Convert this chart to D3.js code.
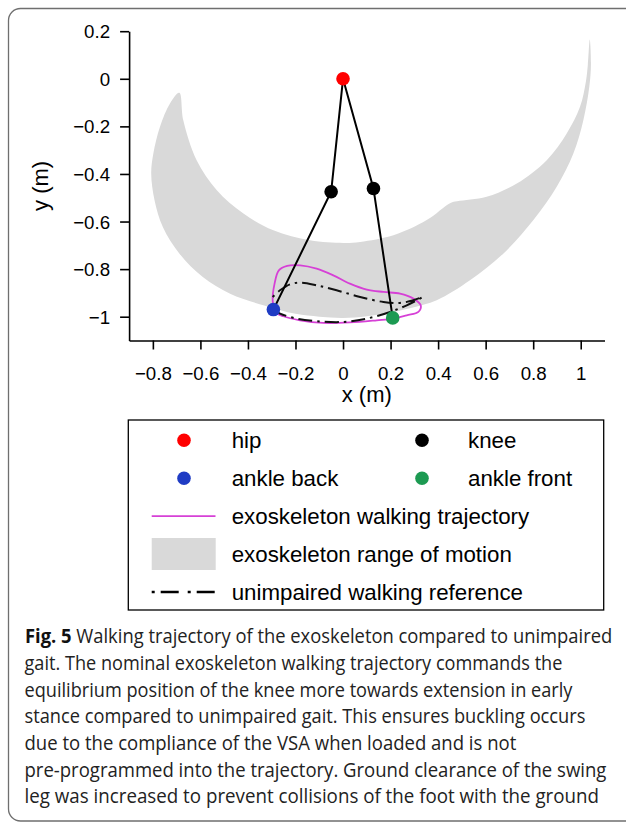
<!DOCTYPE html>
<html>
<head>
<meta charset="utf-8">
<script src="https://cdn.jsdelivr.net/npm/d3@7"></script>
<style>
  html, body { margin: 0; padding: 0; background: #fff; }
  svg { display: block; }
</style>
</head>
<body>
<div id="chart"></div>
<script>
// ---------------- data ----------------
const xTicks = [-0.8, -0.6, -0.4, -0.2, 0, 0.2, 0.4, 0.6, 0.8, 1];
const yTicks = [0.2, 0, -0.2, -0.4, -0.6, -0.8, -1];
const xLabel = "x (m)";
const yLabel = "y (m)";

// joint positions (m)
const jointNames = ["hip", "knee back", "knee front", "ankle back", "ankle front"];
const jointX = [0, -0.050, 0.128, -0.293, 0.209];
const jointY = [0, -0.475, -0.461, -0.970, -1.005];
const jointColors = ["#ff0000", "#000000", "#000000", "#1f3cc4", "#1c9a52"];

// leg segments (indices into joints)
const legBack = [0, 1, 3];
const legFront = [0, 2, 4];

// exoskeleton range of motion: outer boundary (left tip -> bottom -> right tip)
const rangeOuter = [
  [-0.689, -0.059], [-0.728, -0.104], [-0.770, -0.202], [-0.798, -0.314],
  [-0.807, -0.398], [-0.793, -0.510], [-0.758, -0.623], [-0.688, -0.735],
  [-0.590, -0.833], [-0.475, -0.903], [-0.335, -0.952], [-0.200, -0.988],
  [-0.100, -1.000], [0.000, -1.005], [0.100, -0.998], [0.200, -0.982],
  [0.290, -0.962], [0.394, -0.931], [0.534, -0.847], [0.674, -0.735],
  [0.801, -0.594], [0.899, -0.454], [0.969, -0.314], [1.011, -0.174],
  [1.036, -0.034], [1.043, 0.060], [1.038, 0.165]
];
// inner boundary (right tip -> bottom -> left tip)
const rangeInner = [
  [1.030, 0.060], [1.022, -0.010], [0.997, -0.118], [0.941, -0.230],
  [0.857, -0.342], [0.731, -0.440], [0.604, -0.496], [0.480, -0.515],
  [0.452, -0.522], [0.352, -0.594], [0.212, -0.658], [0.072, -0.686],
  [0.001, -0.690], [-0.139, -0.679], [-0.293, -0.637], [-0.419, -0.566],
  [-0.531, -0.468], [-0.616, -0.342], [-0.672, -0.174]
];

// exoskeleton walking trajectory (closed loop)
const exoTrajectory = [
  [-0.296, -0.931], [-0.288, -0.861], [-0.270, -0.805], [-0.235, -0.786],
  [-0.180, -0.784], [-0.111, -0.798], [-0.041, -0.826], [0.029, -0.861],
  [0.100, -0.886], [0.170, -0.896], [0.240, -0.903], [0.296, -0.924],
  [0.327, -0.952], [0.317, -0.980], [0.268, -0.994], [0.212, -1.008],
  [0.142, -1.015], [0.029, -1.024], [-0.083, -1.026], [-0.181, -1.015],
  [-0.251, -0.998], [-0.286, -0.980]
];

// unimpaired walking reference
const refTrajectory = [
  [-0.296, -0.917], [-0.265, -0.889], [-0.223, -0.864], [-0.181, -0.857],
  [-0.111, -0.868], [-0.027, -0.889], [0.072, -0.917], [0.170, -0.938],
  [0.240, -0.942], [0.296, -0.931], [0.335, -0.917], [0.268, -0.952],
  [0.198, -0.980], [0.100, -1.008], [0.001, -1.022], [-0.111, -1.019],
  [-0.195, -1.008], [-0.265, -0.987], [-0.293, -0.970]
];

// legend
const legendLabels = ["hip", "knee", "ankle back", "ankle front",
  "exoskeleton walking trajectory", "exoskeleton range of motion", "unimpaired walking reference"];
const legendKinds = ["point", "point", "point", "point", "line", "fill", "dashline"];
const legendColors = ["#ff0000", "#000000", "#1f3cc4", "#1c9a52", "#d640d6", "#d9d9d9", "#000000"];

// caption
const captionBold = "Fig. 5";
const captionLines = [
  " Walking trajectory of the exoskeleton compared to unimpaired",
  "gait. The nominal exoskeleton walking trajectory commands the",
  "equilibrium position of the knee more towards extension in early",
  "stance compared to unimpaired gait. This ensures buckling occurs",
  "due to the compliance of the VSA when loaded and is not",
  "pre-programmed into the trajectory. Ground clearance of the swing",
  "leg was increased to prevent collisions of the foot with the ground"
];
const captionRight = [612.7, 562.7, 572.7, 586, 516.7, 607, 599.3];

// ---------------- drawing ----------------
const W = 626, H = 823;
const svg = d3.select("#chart").append("svg").attr("width", W).attr("height", H);

// outer frame
svg.append("rect").attr("x", 8.5).attr("y", 8.5).attr("width", 640).attr("height", 812.5)
  .attr("rx", 12).attr("fill", "none").attr("stroke", "#6f6f6f").attr("stroke-width", 1.3);

const x = d3.scaleLinear().domain([-0.9, 1.1]).range([129.1, 604.5]);
const y = d3.scaleLinear().domain([-1.1, 0.2]).range([340.5, 31.2]);

const fontChart = "'Liberation Sans', Arial, Helvetica, sans-serif";
const minus = v => d3.format("")(v).replace("-", "\u2212");

// range of motion
const rangePoly = rangeOuter.concat(rangeInner);
const area = d3.line().x(d => x(d[0])).y(d => y(d[1])).curve(d3.curveCatmullRomClosed.alpha(0.5));
svg.append("path").attr("d", area(rangePoly)).attr("fill", "#d9d9d9").attr("stroke", "none");

// trajectories
const lineC = d3.line().x(d => x(d[0])).y(d => y(d[1])).curve(d3.curveCatmullRomClosed.alpha(0.5));
svg.append("path").attr("d", lineC(exoTrajectory)).attr("fill", "none")
  .attr("stroke", "#d640d6").attr("stroke-width", 1.8);

const lineO = d3.line().x(d => x(d[0])).y(d => y(d[1])).curve(d3.curveCatmullRom.alpha(0.5));
svg.append("path").attr("d", lineO(refTrajectory)).attr("fill", "none")
  .attr("stroke", "#111").attr("stroke-width", 2)
  .attr("stroke-dasharray", "2.5,5,14,5");

// leg segments
const lineL = d3.line().x(i => x(jointX[i])).y(i => y(jointY[i]));
[legBack, legFront].forEach(seg => {
  svg.append("path").attr("d", lineL(seg)).attr("fill", "none")
    .attr("stroke", "#000").attr("stroke-width", 2);
});

// joints
svg.selectAll("circle.joint").data(jointNames).enter().append("circle")
  .attr("class", "joint")
  .attr("cx", (d, i) => x(jointX[i])).attr("cy", (d, i) => y(jointY[i]))
  .attr("r", 6.8).attr("fill", (d, i) => jointColors[i]);

// axes
const xAxis = d3.axisBottom(x).tickValues(xTicks).tickSize(9).tickSizeOuter(0).tickFormat(minus);
const gx = svg.append("g").attr("transform", `translate(0,${y.range()[0]})`).call(xAxis);
const yAxis = d3.axisLeft(y).tickValues(yTicks).tickSize(9).tickSizeOuter(0).tickFormat(minus);
const gy = svg.append("g").attr("transform", `translate(${x.range()[0]},0)`).call(yAxis);
[gx, gy].forEach(g => {
  g.selectAll("path.domain").attr("stroke", "#000").attr("stroke-width", 1.6);
  g.selectAll(".tick line").attr("stroke", "#000").attr("stroke-width", 1.6);
  g.selectAll(".tick text").attr("fill", "#000").style("font-family", fontChart).style("font-size", "18.7px");
});
gx.selectAll(".tick text").attr("y", 0).attr("dy", null).attr("transform", "translate(0,39)");
gy.selectAll(".tick text").attr("x", -19).attr("dy", "0.35em");

svg.append("text").attr("x", (x.range()[0] + x.range()[1]) / 2).attr("y", 402)
  .attr("text-anchor", "middle").style("font-family", fontChart).style("font-size", "22px")
  .text(xLabel);
svg.append("text").attr("transform", `translate(48.3,${(y.range()[0] + y.range()[1]) / 2}) rotate(-90)`)
  .attr("text-anchor", "middle").style("font-family", fontChart).style("font-size", "22px")
  .text(yLabel);

// legend
const lg = svg.append("g");
lg.append("rect").attr("x", 128.3).attr("y", 420).attr("width", 475.4).attr("height", 190)
  .attr("fill", "#fff").attr("stroke", "#000").attr("stroke-width", 1.3);
const rowY = [440.3, 478.2, 516.1, 554, 591.9];
const pos = legendLabels.map((d, i) => {
  if (i < 4) return { row: Math.floor(i / 2), col: i % 2 };
  return { row: i - 2, col: 0 };
});
const symX = [184, 422], txtX = [231.7, 468];
legendLabels.forEach((lab, i) => {
  const p = pos[i], cy = rowY[p.row], cx = symX[p.col];
  const k = legendKinds[i];
  if (k === "point") {
    lg.append("circle").attr("cx", cx).attr("cy", cy).attr("r", 6.8).attr("fill", legendColors[i]);
  } else if (k === "line") {
    lg.append("line").attr("x1", 151.7).attr("x2", 215.5).attr("y1", cy).attr("y2", cy)
      .attr("stroke", legendColors[i]).attr("stroke-width", 1.8);
  } else if (k === "fill") {
    lg.append("rect").attr("x", 151.7).attr("y", cy - 16).attr("width", 64).attr("height", 32)
      .attr("fill", legendColors[i]);
  } else {
    lg.append("line").attr("x1", 151.7).attr("x2", 215.5).attr("y1", cy).attr("y2", cy)
      .attr("stroke", legendColors[i]).attr("stroke-width", 2.5)
      .attr("stroke-dasharray", "3,6,18,9");
  }
  lg.append("text").attr("x", txtX[p.col]).attr("y", cy + 8)
    .style("font-family", fontChart).style("font-size", "22.3px").attr("fill", "#000")
    .text(lab);
});

// caption: each line scaled horizontally to the reference's width
const capFont = "'Open Sans', 'Noto Sans', sans-serif";
captionLines.forEach((ln, i) => {
  const x0 = i === 0 ? 25 : 24.5;
  const yb = 643.3 + i * 26.67;
  const t = svg.append("text").attr("x", 0).attr("y", 0)
    .style("font-family", capFont).style("font-size", "20px").attr("fill", "#222");
  if (i === 0) {
    t.append("tspan").style("font-weight", "bold").attr("fill", "#111").text(captionBold);
    t.append("tspan").text(ln);
  } else {
    t.text(ln);
  }
  const natural = t.node().getComputedTextLength();
  const sx = (captionRight[i] - x0) / natural;
  t.attr("transform", `translate(${x0},${yb}) scale(${sx},1)`);
});
</script>
</body>
</html>
